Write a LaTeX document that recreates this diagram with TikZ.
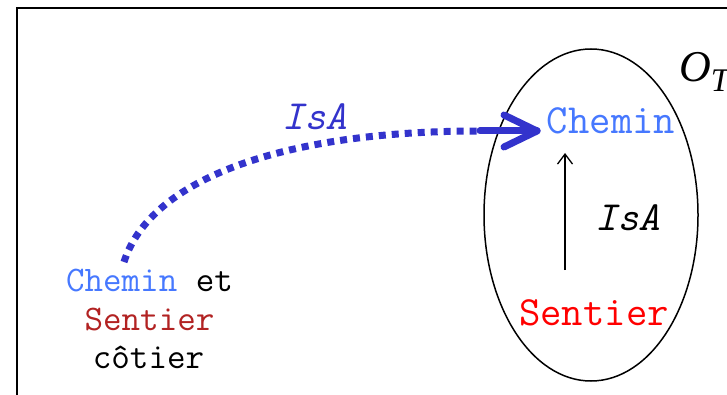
\documentclass[tikz,border=0pt]{standalone}
\usepackage{fontspec}
\setmainfont{Liberation Serif}
\usetikzlibrary{calc,arrows.meta}
\definecolor{chemblue}{RGB}{70,120,255}
\definecolor{arrblue}{RGB}{51,51,204}
\definecolor{darkred}{RGB}{178,34,34}
\definecolor{pured}{RGB}{255,0,0}
\tikzset{
  big/.style={font=\ttfamily\fontsize{41.5}{41.5}\selectfont, inner sep=2pt, anchor=base},
  bigit/.style={font=\ttfamily\itshape\fontsize{41.5}{41.5}\selectfont, inner sep=2pt, anchor=base},
  small/.style={font=\ttfamily\fontsize{36}{36}\selectfont, inner sep=2pt, anchor=base},
  thickarr/.style={arrblue, line width=7pt},
}
\begin{document}
\begin{tikzpicture}[x=1pt,y=-1pt]
\useasboundingbox (0,0) rectangle (727,395);
\fill[white] (0,0) rectangle (727,395);
% frame
\draw[line width=1.5pt] (17,8) rectangle (760,420);
% ellipse
\draw[line width=1.5pt] (591,215) ellipse [x radius=107, y radius=166];
% O_T
\node[anchor=base west, inner sep=0pt, font=\rmfamily\itshape\fontsize{44}{44}\selectfont] (ot) at (679,82) {O\raisebox{-10pt}{\fontsize{33}{33}\selectfont T}};
% right nodes
\node[big, text=chemblue] (chemR) at (611,134) {Chemin};
\node[big, text=pured] (sentR) at (594,325) {Sentier};
\node[bigit] (isaR) at (628,230) {IsA};
% left nodes
\node[small] (l1) at (149.5,291) {\textcolor{chemblue}{Chemin} et};
\node[small, text=darkred] (l2) at (149.5,330) {Sentier};
\node[small] (l3) at (148.5,368) {côtier};
\node[bigit, text=arrblue] (isaL) at (315,130) {IsA};
% internal IsA arrow
\coordinate (vb) at ($(sentR.base)+(-29,-55)$);
\coordinate (vt) at ($(chemR.base)+(-46,19)$);
\draw[line width=1.3pt, -{Straight Barb[length=10pt,width=15pt,line width=1.3pt]}] (vb) -- (vt);
% dotted IsA arrow
\coordinate (ds) at ($(l1.base)+(-25.5,-29)$);
\coordinate (tip) at ($(chemR.base)+(-74,-3)$);
\coordinate (de) at ($(tip)+(-57,0)$);
\draw[thickarr, dash pattern=on 7pt off 6pt] (ds) .. controls ($(ds)+(26,-82)$) and ($(de)+(-200,0)$) .. (de);
\draw[thickarr, line cap=round, line join=round] (de) -- (tip);
\draw[thickarr, line cap=round, line join=round] ($(tip)+(-33,-16)$) -- (tip) -- ($(tip)+(-33,16)$);
\end{tikzpicture}
\end{document}
